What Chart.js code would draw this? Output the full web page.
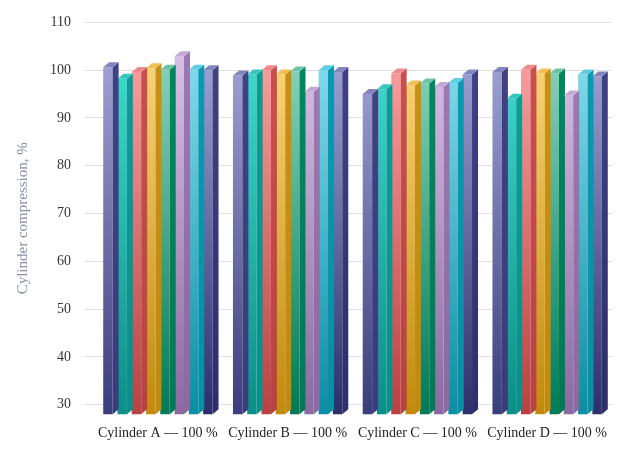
<!DOCTYPE html>
<html><head><meta charset="utf-8">
<script src="https://cdn.jsdelivr.net/npm/chart.js@4"></script>
<style>body{margin:0;background:#fff}#wrap{width:626px;height:461px}</style>
</head><body><div id="wrap"><canvas id="c"></canvas></div>
<script>
const categories = ["Cylinder A \u2014 100 %", "Cylinder B \u2014 100 %", "Cylinder C \u2014 100 %", "Cylinder D \u2014 100 %"];
const s1 = [100.6, 98.9, 95.0, 99.6];
const s2 = [98.2, 99.1, 96.0, 94.0];
const s3 = [99.6, 100.0, 99.3, 100.1];
const s4 = [100.4, 99.1, 96.8, 99.3];
const s5 = [100.1, 99.7, 97.2, 99.3];
const s6 = [102.9, 95.5, 96.5, 94.7];
const s7 = [100.1, 100.0, 97.3, 99.1];
const s8 = [100.0, 99.6, 99.1, 98.7];
const series = [s1, s2, s3, s4, s5, s6, s7, s8];
// front light, front dark, side, top
const palette = [
  ["#a9acdc", "#3a3d7c", "#3f4182", "#8286bd"],
  ["#45e0d4", "#0b8f88", "#0e9b94", "#33c7bd"],
  ["#ffa8a8", "#b84242", "#c94f4f", "#f08a8a"],
  ["#ffdb85", "#c28a0c", "#c98f10", "#f0c050"],
  ["#97dbc2", "#007a55", "#00875f", "#6cc4a4"],
  ["#e0c6ec", "#8a6aa0", "#9a78b0", "#c6a8d6"],
  ["#8ee3f4", "#0a8ea4", "#0a99b0", "#60cde3"],
  ["#a9acdc", "#2c2f6a", "#3f4182", "#8286bd"]
];
const DX = 6, DY = 5;

const depth3d = {
  id: "depth3d",
  afterDatasetsDraw(chart) {
    const ctx = chart.ctx;
    const bottom = chart.chartArea.bottom;
    chart.data.datasets.forEach((ds, i) => {
      const meta = chart.getDatasetMeta(i);
      meta.data.forEach(bar => {
        const l = bar.x - bar.width / 2, r = bar.x + bar.width / 2;
        const t = bar.y, b = Math.min(bar.base, bottom);
        ctx.save();
        const g = ctx.createLinearGradient(0, t, 0, b);
        g.addColorStop(0, palette[i][2]);
        g.addColorStop(1, palette[i][1]);
        ctx.fillStyle = g;
        ctx.beginPath();
        ctx.moveTo(r, t); ctx.lineTo(r + DX, t - DY); ctx.lineTo(r + DX, b - DY); ctx.lineTo(r, b);
        ctx.closePath(); ctx.fill();
        ctx.fillStyle = palette[i][3];
        ctx.beginPath();
        ctx.moveTo(l, t); ctx.lineTo(l + DX, t - DY); ctx.lineTo(r + DX, t - DY); ctx.lineTo(r, t);
        ctx.closePath(); ctx.fill();
        ctx.restore();
      });
    });
  }
};

const datasets = series.map((data, i) => ({
  label: "Series " + (i + 1),
  data: data,
  backgroundColor: (c) => {
    const a = c.chart.chartArea;
    if (!a) return palette[i][0];
    const g = c.chart.ctx.createLinearGradient(0, a.top, 0, a.bottom);
    g.addColorStop(0, palette[i][0]);
    g.addColorStop(1, palette[i][1]);
    return g;
  },
  borderWidth: 0,
  barPercentage: 0.66,
  categoryPercentage: 0.88
}));

new Chart(document.getElementById("c"), {
  type: "bar",
  data: { labels: categories, datasets: datasets },
  plugins: [depth3d],
  options: {
    responsive: true, maintainAspectRatio: false, animation: false,
    layout: { padding: { top: 15, right: 14, left: 10, bottom: 16 } },
    plugins: { legend: { display: false }, tooltip: { enabled: false } },
    scales: {
      x: {
        grid: { display: false },
        border: { display: false },
        ticks: { color: "#222", font: { family: "Liberation Serif", size: 14 } }
      },
      y: {
        min: 28, max: 110,
        afterBuildTicks: (ax) => { ax.ticks = [30,40,50,60,70,80,90,100,110].map(v => ({ value: v })); },
        grid: { color: "#dedede" },
        border: { display: false },
        ticks: { color: "#333", padding: 14, font: { family: "Liberation Serif", size: 14 } },
        title: { display: true, text: "Cylinder compression, %", color: "#8a8fa8", font: { family: "Liberation Serif", size: 15 } }
      }
    }
  }
});
</script></body></html>
